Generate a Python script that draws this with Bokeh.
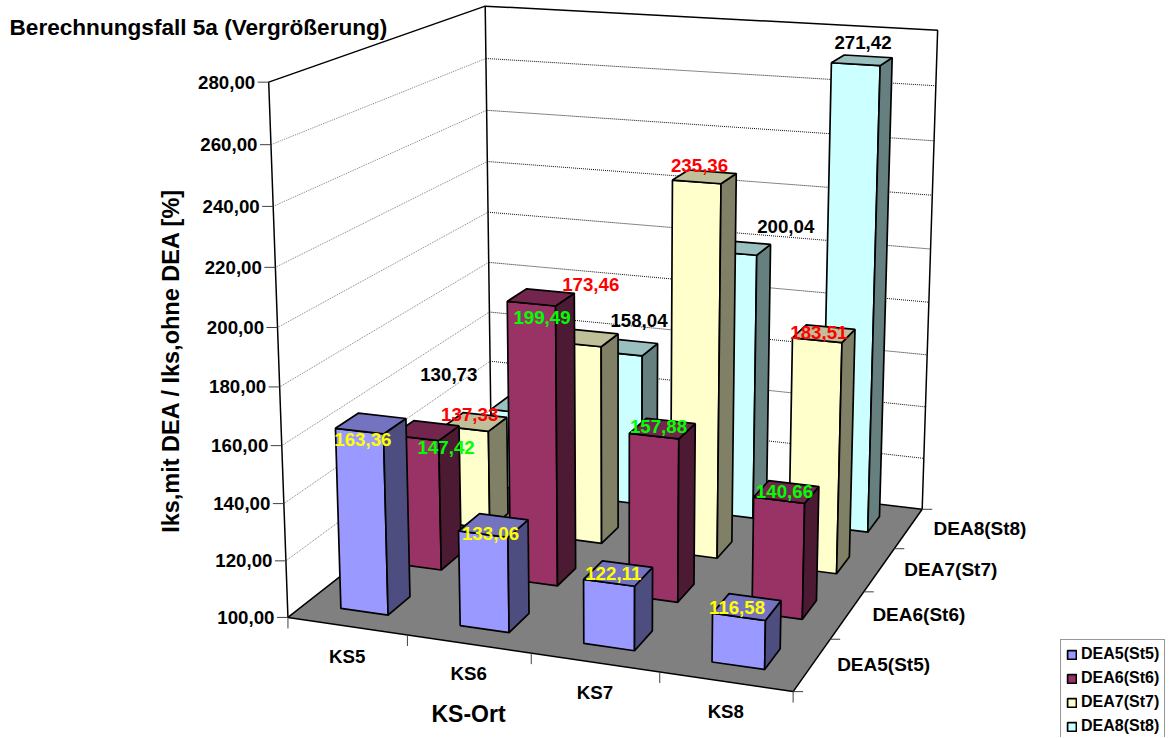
import numpy as np
from bokeh.plotting import figure
from bokeh.models import Range1d, Legend, LegendItem
from bokeh.core.properties import value
from bokeh.embed import file_html
from bokeh.resources import INLINE

categories = ["KS5", "KS6", "KS7", "KS8"]
series_names = ["DEA5(St5)", "DEA6(St6)", "DEA7(St7)", "DEA8(St8)"]
dea5 = [163.36, 133.06, 122.11, 116.58]
dea6 = [147.42, 199.49, 157.88, 140.66]
dea7 = [137.33, 173.46, 235.36, 183.51]
dea8 = [130.73, 158.04, 200.04, 271.42]
y_ticks = [100, 120, 140, 160, 180, 200, 220, 240, 260, 280]

front_colors = ["#9999FF", "#993366", "#FFFFCC", "#CCFFFF"]
side_colors = ["#4D4D80", "#4D1A33", "#808066", "#668080"]
top_colors = ["#7373BF", "#73264D", "#BFBF99", "#99BFBF"]
label_colors = ["#FFFF00", "#00FF00", "#FF0000", "#000000"]

# label offset from the projected centre of each bar's top, per series then category
label_dx = [[-8, -3, -5, -10], [20, 1, -4, -2], [-6, 4, -5, -5], [-72, 11, 45, 1]]
label_dy = [[16, 8, 0, 1], [17, 20, -2, 0], [-7, -53, -11, -1], [-31, -27, -21, -18]]

# Perspective camera: box corners (x 0-4, value 100-280, depth 0-4) to page pixels
# (the last number is the weight of the pair; the back-left floor corner is hidden in the picture)
camera_pairs = [
    ((0, 100, 0), (288.3, 617.7), 1.0),
    ((4, 100, 0), (794, 692), 1.0),
    ((4, 100, 4), (922.5, 510), 1.0),
    ((0, 100, 4), (492.5, 465), 0.1),
    ((0, 280, 0), (269, 83), 1.0),
    ((0, 280, 4), (486, 6.5), 1.0),
    ((4, 280, 4), (938, 30.5), 1.0),
]
A = []
for (x, y, z), (u, v), w in camera_pairs:
    A.append([w * k for k in (x, y, z, 1, 0, 0, 0, 0, -u * x, -u * y, -u * z, -u)])
    A.append([w * k for k in (0, 0, 0, 0, x, y, z, 1, -v * x, -v * y, -v * z, -v)])
A = np.array(A, dtype=float)
scale = np.array([1, 100, 1, 1, 1, 100, 1, 1, 1, 100, 1, 1], dtype=float)
P = (np.linalg.svd(A * scale)[2][-1] * scale).reshape(3, 4)


def proj(x, y, z):
    h = P @ np.array([x, y, z, 1.0])
    return float(h[0] / h[2]), float(h[1] / h[2])


p = figure(width=1171, height=737, x_range=Range1d(1, 1172), y_range=Range1d(738, 1),
           output_backend="svg", toolbar_location=None, min_border=0)
p.axis.visible = False
p.grid.visible = False
p.outline_line_color = None
p.background_fill_color = "white"

# gridlines
for t in y_ticks[1:-1]:
    a, b, c = proj(0, t, 0), proj(0, t, 4), proj(4, t, 4)
    p.line([a[0], b[0]], [a[1], b[1]], line_color="#606060", line_width=0.8, line_dash="1 1")
    p.line([b[0], c[0]], [b[1], c[1]], line_color="#101010", line_width=1, line_dash="1 1")

# floor
fl = [proj(0, 100, 0), proj(4, 100, 0), proj(4, 100, 4), proj(0, 100, 4)]
p.patch([q[0] for q in fl], [q[1] for q in fl], fill_color="#808080", line_color="black", line_width=1.5)

# walls outline
wall = [proj(0, 100, 0), proj(0, 280, 0), proj(0, 280, 4), proj(4, 280, 4), proj(4, 100, 4)]
p.line([q[0] for q in wall], [q[1] for q in wall], line_color="black", line_width=1.5)
bl0, bl1 = proj(0, 100, 4), proj(0, 280, 4)
p.line([bl0[0], bl1[0]], [bl0[1], bl1[1]], line_color="black", line_width=1.5)

# axis ticks
for t in y_ticks:
    a = proj(0, t, 0)
    p.line([a[0] - 11, a[0]], [a[1], a[1]], line_color="#404040", line_width=1)
    p.text([a[0] - 13.5], [a[1]], text=[f"{t},00"], text_font=value("Liberation Sans"), text_font_style="bold",
           text_font_size=value("18.7px"), text_align="right", text_baseline="middle", text_color="black")
for i in range(5):
    a = proj(i, 100, 0)
    p.line([a[0], a[0]], [a[1], a[1] + 11], line_color="#404040", line_width=1)
for j in range(5):
    a = proj(4, 100, j)
    p.line([a[0], a[0] + 10], [a[1], a[1]], line_color="#404040", line_width=1)

for i, c in enumerate(categories):
    a = proj(i + 0.5, 100, 0)
    p.text([a[0]], [a[1] + 30], text=[c], text_font=value("Liberation Sans"), text_font_style="bold",
           text_font_size=value("18.7px"), text_align="center", text_baseline="middle", text_color="black")
for j, s in enumerate(series_names):
    a = proj(4, 100, j + 0.5)
    p.text([a[0] + 25], [a[1]], text=[s], text_font=value("Liberation Sans"), text_font_style="bold",
           text_font_size=value("19px"), text_align="left", text_baseline="middle", text_color="black")

# bars, drawn back to front
series = [dea5, dea6, dea7, dea8]
W0, W1 = 0.3, 0.7
renderers = {}
for j in [3, 2, 1, 0]:
    vals = series[j]
    fx, fy, sx, sy, tx, ty = [], [], [], [], [], []
    for i, v in enumerate(vals):
        x0, x1 = i + W0, i + W1
        z0, z1 = j + W0, j + W1
        front = [proj(x0, 100, z0), proj(x1, 100, z0), proj(x1, v, z0), proj(x0, v, z0)]
        side = [proj(x1, 100, z0), proj(x1, 100, z1), proj(x1, v, z1), proj(x1, v, z0)]
        top = [proj(x0, v, z0), proj(x1, v, z0), proj(x1, v, z1), proj(x0, v, z1)]
        fx.append([q[0] for q in front]); fy.append([q[1] for q in front])
        sx.append([q[0] for q in side]); sy.append([q[1] for q in side])
        tx.append([q[0] for q in top]); ty.append([q[1] for q in top])
    renderers[j] = p.patches(fx, fy, fill_color=front_colors[j], line_color="black", line_width=1.7)
    p.patches(sx, sy, fill_color=side_colors[j], line_color="black", line_width=1.7)
    p.patches(tx, ty, fill_color=top_colors[j], line_color="black", line_width=1.7)

# value labels
for j, vals in enumerate(series):
    for i, v in enumerate(vals):
        a = proj(i + 0.5, v, j + 0.5)
        p.text([a[0] + label_dx[j][i]], [a[1] + label_dy[j][i]], text=[f"{v:.2f}".replace(".", ",")],
               text_font=value("Liberation Sans"), text_font_style="bold", text_font_size=value("18.7px"),
               text_align="center", text_baseline="middle", text_color=label_colors[j])

# titles
p.text([10], [28], text=["Berechnungsfall 5a (Vergrößerung)"], text_font=value("Liberation Sans"),
       text_font_style="bold", text_font_size=value("22.6px"), text_align="left", text_baseline="middle", text_color="black")
p.text([469], [714], text=["KS-Ort"], text_font=value("Liberation Sans"), text_font_style="bold",
       text_font_size=value("23px"), text_align="center", text_baseline="middle", text_color="black")
p.text([171], [361], text=["Iks,mit DEA / Iks,ohne DEA [%]"], text_font=value("Liberation Sans"), text_font_style="bold",
       text_font_size=value("23.5px"), text_align="center", text_baseline="middle", text_color="black", angle=np.pi / 2)

legend = Legend(
    items=[LegendItem(label=series_names[k], renderers=[renderers[k]]) for k in range(4)],
    location=(1060, -4), orientation="vertical", margin=0, padding=5, spacing=6,
    glyph_width=11, glyph_height=11, label_height=16, label_width=78, label_standoff=4,
    label_text_font="Liberation Sans", label_text_font_style="bold", label_text_font_size="16px",
    label_text_color="black", border_line_color="#303030", border_line_width=1.5,
    background_fill_color="white", background_fill_alpha=1.0,
)
p.add_layout(legend)

open("out.html", "w").write(file_html(p, INLINE))
